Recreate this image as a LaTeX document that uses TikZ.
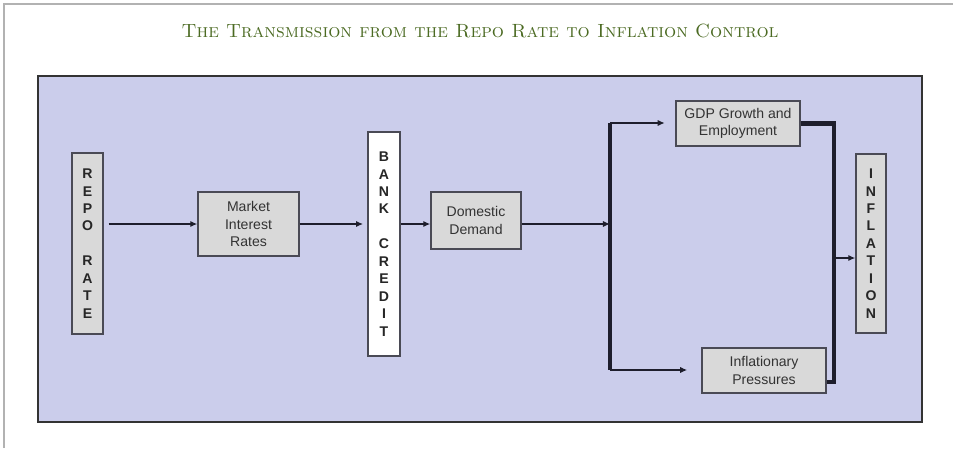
\documentclass[tikz,border=0pt]{standalone}
\usepackage{fontspec}
\setsansfont{Liberation Sans}
\usetikzlibrary{arrows.meta}
\definecolor{panel}{HTML}{CBCDEB}
\definecolor{boxgray}{HTML}{D9D9D9}
\definecolor{edge}{HTML}{4A4A55}
\definecolor{wire}{HTML}{1E1E2C}
\definecolor{titlegreen}{HTML}{4B6A22}

\begin{document}
\begin{tikzpicture}[x = 0.025cm, y = -0.025cm,
  stage/.style = {draw = edge, line width = 1pt, fill = boxgray, align = center, inner sep = 0pt,
    text = black!80, font = \sffamily\fontsize{10}{12.4}\selectfont},
  column/.style = {stage, text = black!85, font = \sffamily\bfseries\fontsize{10}{12.4}\selectfont},
  flow/.style = {draw = wire, line width = 1.3pt, -{Latex[length = 5pt, width = 4.5pt]}},
  bus/.style = {draw = wire, line width = 3.5pt}]
\useasboundingbox (0,0) rectangle (953,448);
\draw[black!30, line width = 1.4pt] (4,448) -- (4,4) -- (953,4);
\node[font = \rmfamily\scshape\fontsize{13.6}{16}\selectfont, text = titlegreen] (title) at (480,31)
  {The Transmission from the Repo Rate to Inflation Control};
\draw[fill = panel, draw = black!80, line width = 1.2pt] (38,76) rectangle (922,422);
\node[column, minimum width = 0.775cm, minimum height = 4.525cm] (repo) at (87.5,243.5)
  {R\\E\\P\\O\\[12.4pt]R\\A\\T\\E};
\node[stage, minimum width = 2.525cm, minimum height = 1.6cm] (market) at (248.5,224)
  {Market\\Interest\\Rates};
\node[column, fill = white, minimum width = 0.8cm, minimum height = 5.6cm] (bank) at (384,244)
  {B\\A\\N\\K\\[12.4pt]C\\R\\E\\D\\I\\T};
\node[stage, minimum width = 2.25cm, minimum height = 1.425cm] (domestic) at (476,220.5)
  {Domestic\\Demand};
\node[stage, minimum width = 3.1cm, minimum height = 1.125cm] (gdp) at (738,123.5)
  {GDP Growth and\\Employment};
\node[stage, minimum width = 3.1cm, minimum height = 1.125cm] (pressures) at (764,370.5)
  {Inflationary\\Pressures};
\node[column, minimum width = 0.75cm, minimum height = 4.475cm] (inflation) at (871,243.5)
  {I\\N\\F\\L\\A\\T\\I\\O\\N};
\coordinate (split) at (610,224);
\coordinate (splittop) at (610,123);
\coordinate (splitbot) at (610,370);
\coordinate (loopbot) at (834,382);
\coordinate (join) at (834,258);
\draw[flow, shorten < = 3.5pt] (repo.east |- split) -- (market.west |- split);
\draw[flow, shorten > = 3pt] (market.east |- split) -- (bank.west |- split);
\draw[flow] (bank.east |- split) -- (domestic.west |- split);
\draw[flow] (domestic.east |- split) -- (split);
\draw[bus] (splittop) -- (splitbot);
\draw[flow, shorten > = 7.5pt] (splittop) -- (gdp.west |- splittop);
\draw[flow, shorten > = 10pt] (splitbot) -- (pressures.west |- splitbot);
\draw[bus] (gdp.east) -| (loopbot) -- (pressures.east |- loopbot);
\draw[flow] (join) -- (inflation.west |- join);
\end{tikzpicture}
\end{document}
